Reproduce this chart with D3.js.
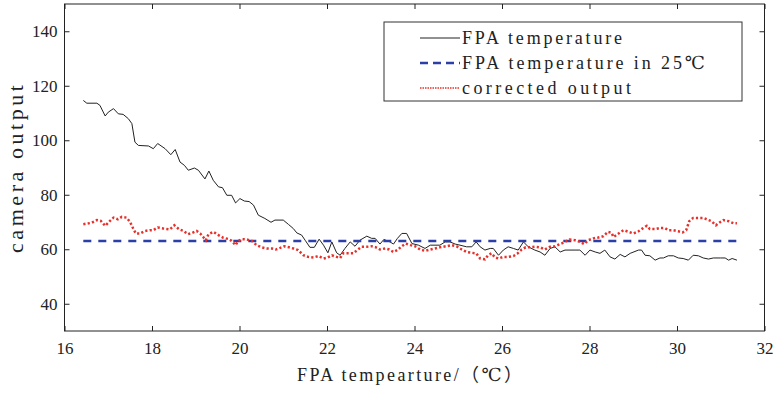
<!DOCTYPE html>
<html>
<head>
<meta charset="utf-8">
<script src="https://cdn.jsdelivr.net/npm/d3@7"></script>
<style>
  body { margin: 0; background: #fff; }
  text { font-family: "Liberation Serif", "DejaVu Serif", "Noto Sans CJK SC", serif; fill: #222; }
</style>
</head>
<body>
<div id="chart"></div>
<script>
// FPA temperature (raw camera output)
const rawX = [16.43, 16.51, 16.74, 16.81, 16.93, 17.0, 17.12, 17.23, 17.34, 17.46, 17.54, 17.61, 17.69, 17.92, 18.03, 18.13, 18.3, 18.43, 18.53, 18.64, 18.74, 18.83, 18.97, 19.06, 19.21, 19.3, 19.4, 19.52, 19.61, 19.71, 19.82, 19.91, 20.01, 20.11, 20.22, 20.32, 20.43, 20.58, 20.72, 20.81, 21.0, 21.12, 21.23, 21.31, 21.42, 21.5, 21.61, 21.71, 21.82, 21.92, 22.02, 22.11, 22.22, 22.3, 22.41, 22.53, 22.64, 22.75, 22.91, 23.02, 23.1, 23.21, 23.3, 23.44, 23.52, 23.61, 23.71, 23.82, 23.94, 24.09, 24.24, 24.36, 24.58, 24.7, 24.81, 24.93, 25.04, 25.19, 25.31, 25.41, 25.5, 25.61, 25.73, 25.8, 25.92, 26.03, 26.14, 26.26, 26.37, 26.49, 26.6, 26.75, 26.87, 26.98, 27.1, 27.21, 27.33, 27.44, 27.67, 27.78, 27.9, 28.01, 28.13, 28.24, 28.35, 28.47, 28.58, 28.7, 28.81, 28.93, 29.12, 29.19, 29.27, 29.38, 29.5, 29.61, 29.69, 29.8, 29.92, 30.03, 30.14, 30.26, 30.37, 30.49, 30.6, 30.72, 30.83, 30.99, 31.1, 31.18, 31.26, 31.37];
const rawY = [114.6, 113.6, 113.6, 112.8, 108.9, 110.3, 111.6, 109.7, 109.5, 107.9, 106.1, 99.3, 98.1, 97.9, 96.9, 98.8, 96.9, 94.7, 96.6, 92.0, 90.8, 89.0, 89.8, 89.0, 85.8, 88.7, 85.3, 82.9, 82.6, 79.8, 79.8, 77.0, 78.6, 77.7, 77.5, 76.2, 72.5, 71.3, 69.9, 70.7, 70.7, 69.1, 67.6, 66.0, 65.2, 63.3, 60.7, 60.7, 63.7, 61.5, 58.7, 62.7, 58.7, 57.8, 60.3, 62.7, 61.1, 63.3, 64.8, 64.0, 64.0, 61.9, 63.6, 62.7, 61.9, 64.0, 65.8, 65.8, 62.1, 61.5, 60.3, 61.5, 61.5, 62.7, 62.7, 61.9, 61.5, 60.9, 60.9, 62.7, 60.9, 59.7, 60.3, 60.3, 57.8, 59.7, 60.9, 60.3, 59.7, 62.7, 60.9, 59.7, 59.0, 57.8, 60.3, 60.9, 59.0, 59.7, 59.7, 59.7, 57.8, 59.7, 59.0, 58.5, 59.7, 57.2, 56.4, 58.1, 57.2, 58.5, 59.7, 59.7, 57.8, 57.6, 56.0, 56.8, 56.8, 57.6, 57.6, 56.8, 56.6, 56.0, 57.8, 57.6, 56.8, 56.4, 56.8, 56.8, 56.8, 56.0, 56.6, 56.0];

// reference level at 25 C
const refX = [16.43, 31.37];
const refY = [63, 63];

// corrected output
const corrX = [16.43, 16.62, 16.74, 16.83, 16.93, 17.04, 17.12, 17.22, 17.31, 17.42, 17.5, 17.57, 17.63, 17.73, 17.84, 17.95, 18.03, 18.13, 18.26, 18.41, 18.51, 18.62, 18.72, 18.82, 18.92, 19.02, 19.1, 19.17, 19.23, 19.29, 19.4, 19.52, 19.63, 19.74, 19.82, 19.91, 19.97, 20.05, 20.16, 20.28, 20.39, 20.51, 20.62, 20.74, 20.83, 20.93, 21.02, 21.13, 21.23, 21.34, 21.46, 21.57, 21.69, 21.8, 21.92, 22.02, 22.11, 22.22, 22.3, 22.37, 22.49, 22.6, 22.71, 22.79, 22.91, 23.02, 23.12, 23.21, 23.33, 23.42, 23.52, 23.61, 23.71, 23.8, 23.91, 24.01, 24.13, 24.24, 24.36, 24.47, 24.58, 24.72, 24.85, 24.96, 25.08, 25.19, 25.31, 25.41, 25.5, 25.61, 25.68, 25.76, 25.84, 25.92, 26.03, 26.14, 26.26, 26.36, 26.45, 26.54, 26.64, 26.75, 26.87, 26.98, 27.1, 27.21, 27.33, 27.44, 27.55, 27.67, 27.78, 27.88, 27.97, 28.09, 28.2, 28.32, 28.42, 28.5, 28.55, 28.63, 28.7, 28.78, 28.89, 29.01, 29.12, 29.19, 29.31, 29.38, 29.5, 29.61, 29.72, 29.8, 29.92, 30.03, 30.13, 30.21, 30.28, 30.37, 30.49, 30.6, 30.68, 30.79, 30.89, 30.99, 31.06, 31.18, 31.3, 31.37];
const corrY = [69.2, 69.7, 70.7, 70.4, 68.6, 70.4, 71.6, 71.0, 71.9, 71.6, 70.0, 67.6, 65.8, 65.8, 66.7, 67.0, 67.0, 68.0, 67.6, 67.3, 68.8, 67.3, 66.7, 65.5, 66.0, 66.7, 65.8, 64.5, 63.3, 65.5, 66.4, 65.2, 64.2, 63.8, 63.1, 61.5, 63.0, 63.7, 63.6, 63.1, 61.5, 60.7, 60.3, 60.3, 59.9, 60.5, 61.1, 60.7, 60.3, 59.7, 57.8, 57.2, 57.0, 57.5, 56.6, 57.0, 57.8, 57.2, 56.8, 58.5, 58.5, 58.5, 59.9, 60.9, 60.9, 61.1, 60.7, 59.9, 60.3, 59.9, 59.0, 59.7, 61.1, 62.1, 61.5, 61.1, 59.9, 59.4, 59.9, 60.3, 60.7, 61.1, 61.5, 61.1, 59.9, 59.0, 58.7, 58.5, 56.6, 56.3, 57.8, 58.5, 57.0, 56.6, 57.2, 57.2, 57.5, 58.5, 59.9, 60.7, 60.7, 60.9, 60.7, 59.9, 60.9, 61.1, 61.9, 62.7, 63.6, 63.3, 62.7, 61.9, 63.3, 64.0, 64.3, 64.8, 66.4, 66.1, 64.5, 65.4, 66.2, 67.0, 66.4, 65.8, 66.6, 67.4, 68.6, 67.4, 67.4, 67.8, 67.8, 67.0, 67.0, 66.6, 66.2, 67.0, 70.3, 71.5, 71.5, 71.5, 71.0, 70.3, 68.8, 70.0, 70.7, 70.3, 69.5, 69.5];

const xTicks = [16, 18, 20, 22, 24, 26, 28, 30, 32];
const yTicks = [40, 60, 80, 100, 120, 140];
const legendNames = ["FPA temperature", "FPA temperature in 25\u2103", "corrected output"];

const serif = '"Liberation Serif", "DejaVu Serif", serif';
const width = 774, height = 393;
const margin = { top: 4, right: 9.5, bottom: 62, left: 64.5 };
const graphWidth = width - margin.left - margin.right;
const graphHeight = height - margin.top - margin.bottom;

const svg = d3.select("#chart").append("svg")
    .attr("width", width)
    .attr("height", height);

const graph = svg.append("g")
    .attr("transform", `translate(${margin.left},${margin.top})`);

const x = d3.scaleLinear().domain([16, 32]).range([0, graphWidth]);
const y = d3.scaleLinear().domain([30, 150]).range([graphHeight, 0]);

// axes, ticks pointing inward on all four sides
const styleAxis = g => {
    g.attr("font-family", serif).attr("font-size", 17);
    g.select(".domain").remove();
    g.selectAll("line").attr("stroke", "#222");
    g.selectAll("text")
        .style("font-family", serif)
        .style("font-size", "17px")
        .style("fill", "#222");
};

graph.append("g")
    .attr("transform", `translate(0,${graphHeight})`)
    .call(d3.axisBottom(x).tickValues(xTicks).tickSize(-5).tickPadding(11).tickFormat(d3.format("d")))
    .call(styleAxis);
graph.append("g")
    .call(d3.axisTop(x).tickValues(xTicks).tickSize(-5).tickFormat(""))
    .call(styleAxis);
graph.append("g")
    .call(d3.axisLeft(y).tickValues(yTicks).tickSize(-5).tickPadding(7).tickFormat(d3.format("d")))
    .call(styleAxis);
graph.append("g")
    .attr("transform", `translate(${graphWidth},0)`)
    .call(d3.axisRight(y).tickValues(yTicks).tickSize(-5).tickFormat(""))
    .call(styleAxis);

graph.append("rect")
    .attr("width", graphWidth)
    .attr("height", graphHeight)
    .attr("fill", "none")
    .attr("stroke", "#222")
    .attr("stroke-width", 1);

const line = d3.line().x(d => x(d[0])).y(d => y(d[1]));

graph.append("path")
    .datum(d3.zip(rawX, rawY))
    .attr("fill", "none")
    .attr("stroke", "#222")
    .attr("stroke-width", 1)
    .attr("d", line);

graph.append("path")
    .datum(d3.zip(refX, refY))
    .attr("fill", "none")
    .attr("stroke", "#2b3fa6")
    .attr("stroke-width", 2.5)
    .attr("stroke-dasharray", "8,7")
    .attr("d", line);

graph.append("path")
    .datum(d3.zip(corrX, corrY))
    .attr("fill", "none")
    .attr("stroke", "#e8302a")
    .attr("stroke-width", 2.5)
    .attr("stroke-dasharray", "2.2,2.2")
    .attr("d", line);

// legend
const legend = svg.append("g").attr("transform", "translate(384,22)");
legend.append("rect")
    .attr("width", 358)
    .attr("height", 79)
    .attr("fill", "#fff")
    .attr("stroke", "#333")
    .attr("stroke-width", 1);

const legendStyles = [
    { stroke: "#222", w: 1, dash: null, len: 160 },
    { stroke: "#2b3fa6", w: 2.5, dash: "8,5", len: 243 },
    { stroke: "#e8302a", w: 1.5, dash: "1.5,1", len: 169 }
];
legendNames.forEach((name, i) => {
    const yy = 16 + i * 25;
    legend.append("line")
        .attr("x1", 36).attr("x2", 76)
        .attr("y1", yy).attr("y2", yy)
        .attr("stroke", legendStyles[i].stroke)
        .attr("stroke-width", legendStyles[i].w)
        .attr("stroke-dasharray", legendStyles[i].dash);
    legend.append("text")
        .attr("x", 78)
        .attr("y", yy)
        .attr("dy", "0.35em")
        .attr("textLength", legendStyles[i].len)
        .attr("lengthAdjust", "spacing")
        .style("font-size", "18px")
        .text(name);
});

// axis labels
svg.append("text")
    .attr("x", 297)
    .attr("y", 381)
    .attr("textLength", 225)
    .attr("lengthAdjust", "spacing")
    .style("font-size", "18px")
    .text("FPA tempearture/\uFF08\u2103\uFF09");

svg.append("text")
    .attr("transform", "rotate(-90)")
    .attr("x", -253)
    .attr("y", 23)
    .attr("textLength", 168)
    .attr("lengthAdjust", "spacing")
    .style("font-size", "22px")
    .text("camera output");
</script>
</body>
</html>
